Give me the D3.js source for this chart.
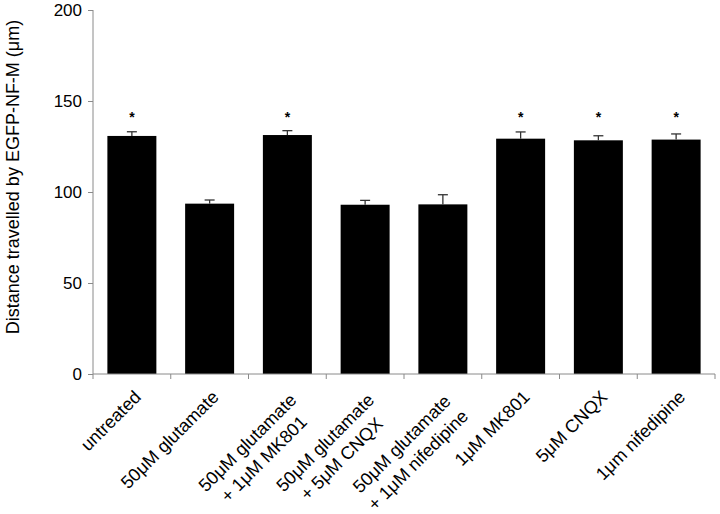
<!DOCTYPE html>
<html>
<head>
<meta charset="utf-8">
<script src="https://cdn.jsdelivr.net/npm/d3@7/dist/d3.min.js"></script>
<style>
  html, body { margin: 0; padding: 0; background: #fff; }
  svg { display: block; }
  text { font-family: "Liberation Sans", Arial, Helvetica, sans-serif; fill: #000; }
</style>
</head>
<body>
<svg id="chart" width="720" height="514"></svg>
<script>
// ---- data ----
const categories = [
  "untreated",
  "50μM glutamate",
  "50μM glutamate\n+ 1μM MK801",
  "50μM glutamate\n+ 5μM CNQX",
  "50μM glutamate\n+ 1μM nifedipine",
  "1μM MK801",
  "5μM CNQX",
  "1μm nifedipine"
];
const values = [130.8, 93.6, 131.3, 93.0, 93.2, 129.3, 128.4, 128.8];
const errors = [2.3, 2.0, 2.4, 2.4, 5.3, 3.7, 2.5, 3.1];
const significant = [true, false, true, false, false, true, true, true];
const yTicks = [0, 50, 100, 150, 200];
const yTitle = "Distance travelled by EGFP-NF-M (μm)";

// ---- layout ----
const svg = d3.select("#chart");
const mLeft = 93, mRight = 715, mTop = 10, mBottom = 374;
const axisColor = "#8a8a8a";

const x = d3.scaleBand()
  .domain(d3.range(categories.length))
  .range([mLeft, mRight])
  .paddingInner(0.37)
  .paddingOuter(0.185);

const y = d3.scaleLinear().domain([0, 200]).range([mBottom, mTop]);

// bars
svg.append("g").selectAll("rect")
  .data(values)
  .join("rect")
  .attr("x", (d, i) => x(i))
  .attr("width", x.bandwidth())
  .attr("y", d => y(d))
  .attr("height", d => y(0) - y(d))
  .attr("fill", "#000");

// error bars (upper)
const eg = svg.append("g").attr("stroke", "#333").attr("stroke-width", 1.3).attr("fill", "none");
values.forEach((v, i) => {
  const cx = x(i) + x.bandwidth() / 2;
  eg.append("line").attr("x1", cx).attr("x2", cx).attr("y1", y(v)).attr("y2", y(v + errors[i]));
  eg.append("line").attr("x1", cx - 5).attr("x2", cx + 5).attr("y1", y(v + errors[i])).attr("y2", y(v + errors[i]));
});

// significance stars
const starLevel = 138.5;
svg.append("g").selectAll("text")
  .data(values.map((v, i) => ({ i, s: significant[i] })).filter(d => d.s))
  .join("text")
  .attr("x", d => x(d.i) + x.bandwidth() / 2)
  .attr("y", y(starLevel))
  .attr("text-anchor", "middle")
  .attr("font-size", 14)
  .attr("font-weight", "bold")
  .text("*");

// y axis
const yAxis = svg.append("g")
  .attr("transform", `translate(${mLeft},0)`)
  .call(d3.axisLeft(y).tickValues(yTicks).tickSize(5).tickPadding(6).tickFormat(d3.format("d")));
yAxis.select(".domain").attr("stroke", axisColor).attr("d", `M0,${mTop}V${mBottom}`);
yAxis.selectAll(".tick line").attr("stroke", axisColor);
yAxis.selectAll(".tick text").attr("font-size", 17).attr("fill", "#000")
  .style("font-family", '"Liberation Sans", Arial, sans-serif');

// x axis line + ticks at band boundaries
const xg = svg.append("g").attr("stroke", axisColor).attr("stroke-width", 1);
xg.append("line").attr("x1", mLeft).attr("x2", mRight).attr("y1", mBottom).attr("y2", mBottom);
const step = x.step();
d3.range(categories.length + 1).forEach(k => {
  const xx = mLeft + k * step;
  xg.append("line").attr("x1", xx).attr("x2", xx).attr("y1", mBottom).attr("y2", mBottom + 5);
});

// x labels (rotated, lines centered)
const fs = 18, lineH = 23;
categories.forEach((lab, i) => {
  const cx = x(i) + x.bandwidth() / 2;
  const lines = lab.split("\n");
  const dy = lines.length > 1 ? 3 : 0;
  const g = svg.append("g").attr("transform", `translate(${cx + 1},${mBottom + 15 + dy}) rotate(-45)`);
  const texts = lines.map((t, j) => g.append("text")
    .attr("font-size", fs)
    .attr("text-anchor", "end")
    .attr("y", 13 + j * lineH)
    .text(t));
  const widths = texts.map(t => t.node().getComputedTextLength());
  const maxW = d3.max(widths);
  texts.forEach((t, j) => t.attr("x", -(maxW - widths[j]) / 2));
});

// y title
svg.append("text")
  .attr("transform", `translate(18.5,${(mTop + mBottom) / 2 - 15}) rotate(-90)`)
  .attr("text-anchor", "middle")
  .attr("font-size", 18)
  .text(yTitle);
</script>
</body>
</html>
